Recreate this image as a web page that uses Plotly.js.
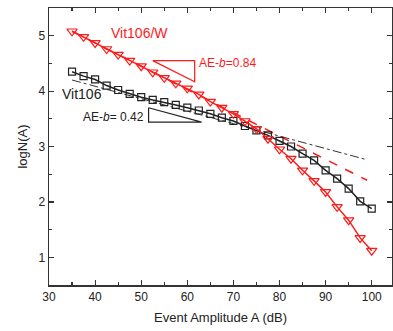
<!DOCTYPE html>
<html>
<head>
<meta charset="utf-8">
<script src="https://cdn.plot.ly/plotly-3.0.1.min.js"></script>
<style>html,body{margin:0;padding:0;background:#fff;}#chart{width:393px;height:331px;}</style>
</head>
<body>
<div id="chart"></div>
<script>
const amplitude = [35,37.5,40,42.5,45,47.5,50,52.5,55,57.5,60,62.5,65,67.5,70,72.5,75,77.5,80,82.5,85,87.5,90,92.5,95,97.5,100];
const vit106 = [4.35,4.27,4.21,4.10,4.02,3.95,3.89,3.84,3.80,3.75,3.70,3.65,3.59,3.52,3.46,3.37,3.29,3.20,3.10,3.00,2.87,2.75,2.57,2.42,2.24,2.01,1.88];
const vit106W = [5.08,4.98,4.87,4.76,4.66,4.55,4.45,4.34,4.24,4.14,4.05,3.94,3.81,3.70,3.59,3.46,3.32,3.14,2.95,2.78,2.57,2.38,2.18,1.91,1.67,1.35,1.12];
const fitX = [35, 99];
const fitVit106 = [4.20, 2.76];
const fitVit106W = [5.08, 2.39];
const triWX = [52.5, 61.6, 61.6, 52.5];
const triWY = [4.55, 4.55, 4.17, 4.55];
const triX = [51.6, 51.6, 63.1, 51.6];
const triY = [3.70, 3.44, 3.44, 3.70];
const xTicks = [30,40,50,60,70,80,90,100];
const yTicks = [1,2,3,4,5];

const RED = '#ff1a1a';
const BLK = '#222222';
const FONT = 'Arial, "Liberation Sans", sans-serif';

const traces = [
  {x: fitX, y: fitVit106, mode: 'lines', line: {color: '#333', width: 1, dash: 'dashdot'}, hoverinfo: 'skip'},
  {x: fitX, y: fitVit106W, mode: 'lines', line: {color: RED, width: 1.5, dash: 'dash'}, hoverinfo: 'skip'},
  {x: amplitude, y: vit106, mode: 'lines+markers', name: 'Vit106',
   line: {color: BLK, width: 1.5},
   marker: {symbol: 'square-open', size: 7, color: BLK, line: {width: 1.2}}},
  {x: amplitude, y: vit106W, mode: 'lines+markers', name: 'Vit106/W',
   line: {color: RED, width: 1.5},
   marker: {symbol: 'triangle-down-open', size: 9, color: RED, line: {width: 1.2}}},
  {x: triWX, y: triWY, mode: 'lines', line: {color: RED, width: 1.2}, hoverinfo: 'skip'},
  {x: triX, y: triY, mode: 'lines', line: {color: BLK, width: 1.2}, hoverinfo: 'skip'}
];

const axisCommon = {
  showgrid: false, zeroline: false, showline: true, linecolor: '#333', linewidth: 1.5,
  mirror: 'ticks', ticks: 'inside', ticklen: 5, tickwidth: 1.2, tickcolor: '#333',
  tickfont: {family: FONT, size: 12, color: '#222'}
};

const layout = {
  width: 393, height: 331,
  margin: {l: 49, r: 1, t: 8, b: 46},
  paper_bgcolor: '#fff', plot_bgcolor: '#fff',
  showlegend: false,
  font: {family: FONT, color: '#222'},
  xaxis: Object.assign({}, axisCommon, {
    range: [30, 104.4], tickvals: xTicks, ticktext: xTicks.map(String),
    minor: {dtick: 5, tick0: 30, ticks: 'inside', ticklen: 3, tickwidth: 1.2, tickcolor: '#333'},
    title: {text: 'Event Amplitude A (dB)', font: {family: FONT, size: 13, color: '#222'}, standoff: 10}
  }),
  yaxis: Object.assign({}, axisCommon, {
    range: [0.5, 5.5], tickvals: yTicks, ticktext: yTicks.map(String),
    minor: {dtick: 0.5, tick0: 0.5, ticks: 'inside', ticklen: 3, tickwidth: 1.2, tickcolor: '#333'},
    title: {text: 'logN(A)', font: {family: FONT, size: 13, color: '#222'}, standoff: 8}
  }),
  annotations: [
    {x: 49.7, y: 5.05, text: 'Vit106/W', showarrow: false, font: {family: FONT, size: 14, color: RED}},
    {x: 37.2, y: 3.94, text: 'Vit106', showarrow: false, font: {family: FONT, size: 14, color: BLK}},
    {x: 62.1, y: 4.50, xanchor: 'left', text: 'AE-<i>b</i>=0.84', showarrow: false, font: {family: FONT, size: 12, color: RED}},
    {x: 51.1, y: 3.53, xanchor: 'right', text: 'AE-<i>b</i>= 0.42', showarrow: false, font: {family: FONT, size: 12, color: BLK}}
  ]
};

Plotly.newPlot('chart', traces, layout, {staticPlot: true, displayModeBar: false});
</script>
</body>
</html>
